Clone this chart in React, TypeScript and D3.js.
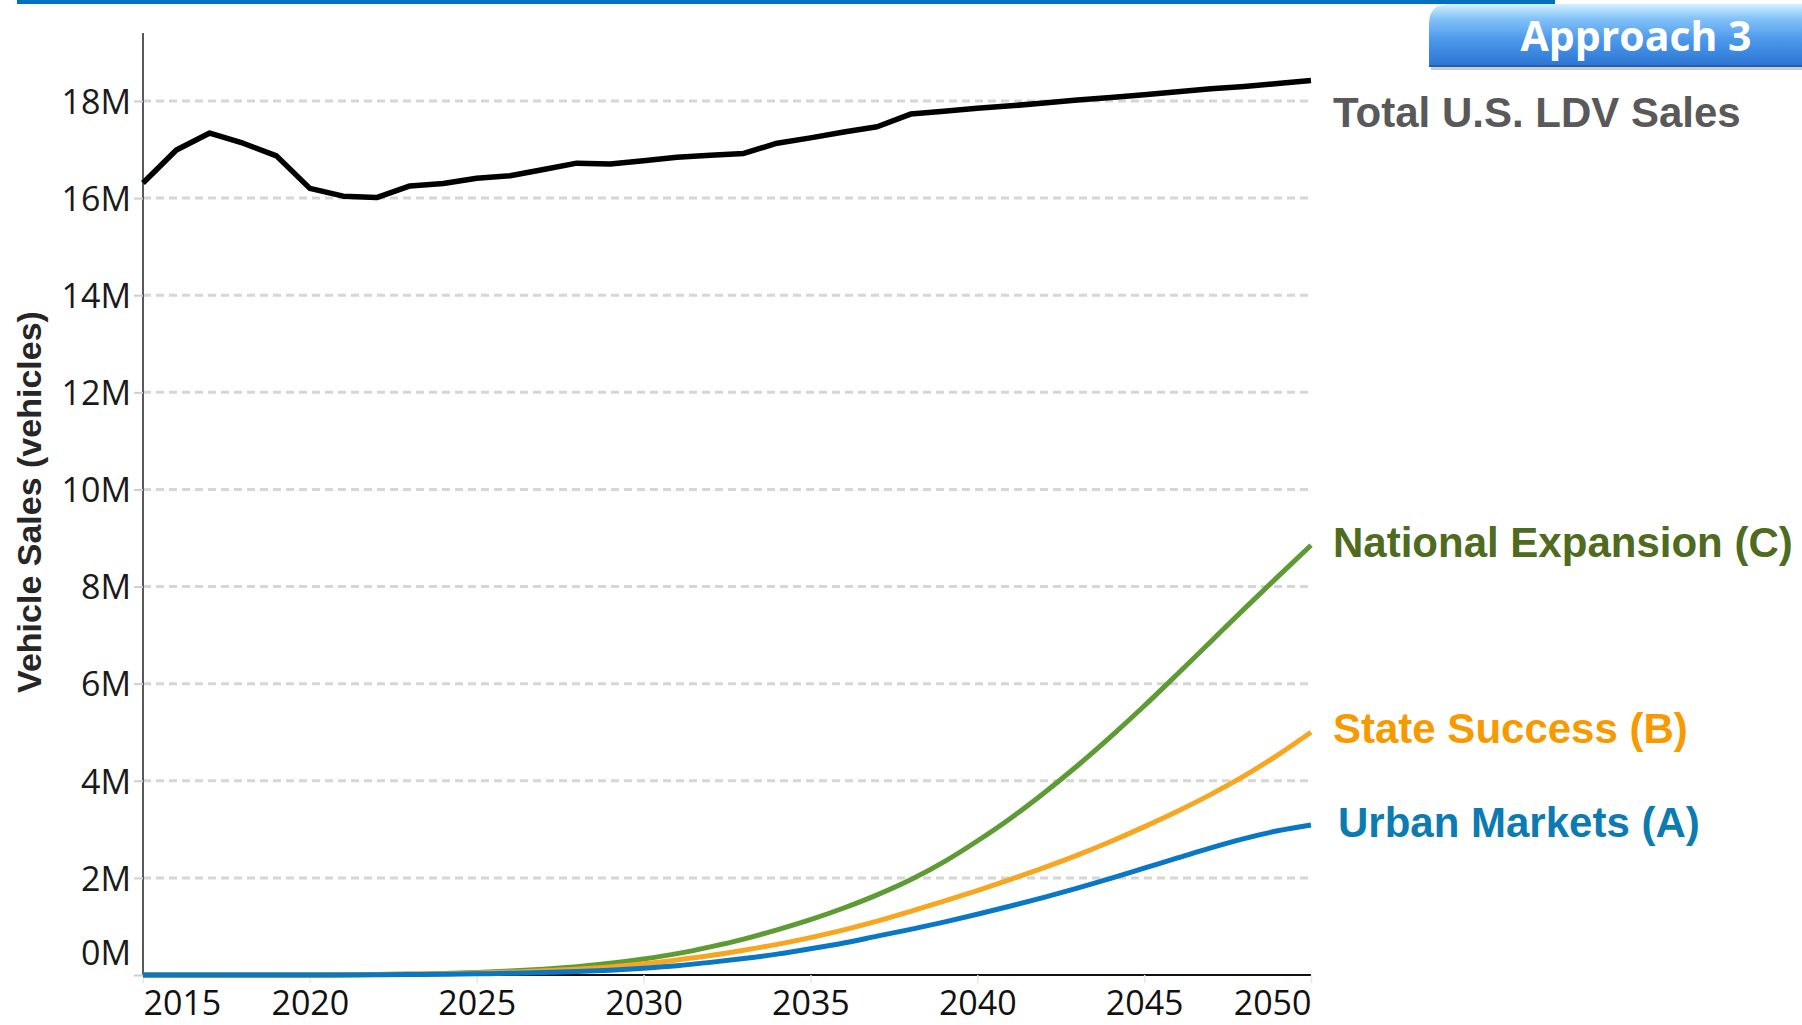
import React, { useEffect, useRef } from "react";
import * as d3 from "d3";

// yearly values (millions of vehicles)
const years = d3.range(2015, 2051);

const totalSales = [
  16.31, 16.99, 17.34, 17.13, 16.87, 16.2, 16.04, 16.01, 16.25, 16.3, 16.41, 16.46,
  16.59, 16.72, 16.7, 16.77, 16.84, 16.88, 16.92, 17.13, 17.24, 17.36, 17.47, 17.73,
  17.79, 17.85, 17.9, 17.96, 18.02, 18.07, 18.13, 18.19, 18.25, 18.3, 18.36, 18.42,
];

const nationalExpansion = [
  0, 0, 0, 0, 0, 0, 0.005, 0.01, 0.02, 0.03, 0.05, 0.08, 0.12, 0.17, 0.24, 0.33, 0.44,
  0.58, 0.74, 0.93, 1.14, 1.38, 1.65, 1.96, 2.33, 2.76, 3.23, 3.75, 4.31, 4.91, 5.54,
  6.2, 6.87, 7.54, 8.2, 8.85,
];

const stateSuccess = [
  0, 0, 0, 0, 0, 0, 0.003, 0.008, 0.015, 0.025, 0.04, 0.06, 0.085, 0.12, 0.165, 0.23,
  0.31, 0.4, 0.51, 0.63, 0.77, 0.93, 1.11, 1.31, 1.52, 1.74, 1.97, 2.21, 2.47, 2.75,
  3.05, 3.37, 3.72, 4.1, 4.53, 5.0,
];

const urbanMarkets = [
  0, 0, 0, 0, 0, 0, 0.002, 0.005, 0.01, 0.015, 0.025, 0.035, 0.05, 0.07, 0.1, 0.14,
  0.19, 0.26, 0.34, 0.43, 0.54, 0.66, 0.8, 0.94, 1.09, 1.25, 1.42, 1.6, 1.79, 1.99,
  2.2, 2.41, 2.62, 2.81, 2.97, 3.09,
];

const yTicks = [0, 2, 4, 6, 8, 10, 12, 14, 16, 18];
const xTicks = [2015, 2020, 2025, 2030, 2035, 2040, 2045, 2050];

const series = [
  { name: "Total U.S. LDV Sales", values: totalSales, line: "#000000", label: "#595959", curve: d3.curveLinear, labelY: 127 },
  { name: "National Expansion (C)", values: nationalExpansion, line: "#5e9b34", label: "#4e6b20", curve: d3.curveMonotoneX, labelY: 557 },
  { name: "State Success (B)", values: stateSuccess, line: "#f7a622", label: "#f79a00", curve: d3.curveMonotoneX, labelY: 743 },
  { name: "Urban Markets (A)", values: urbanMarkets, line: "#0a77c4", label: "#0c7bb2", curve: d3.curveMonotoneX, labelY: 837 },
];

const W = 1802;
const H = 1025;

const App = () => {
  const ref = useRef<SVGSVGElement>(null);

  useEffect(() => {
    const svg = d3.select(ref.current);
    svg.selectAll("*").remove();

    const x = d3.scaleLinear().domain([2015, 2050]).range([143, 1311]);
    const y = d3.scaleLinear().domain([0, 19.4]).range([975, 33]);

    const defs = svg.append("defs");
    const grad = defs
      .append("linearGradient")
      .attr("id", "tab")
      .attr("x1", 0)
      .attr("y1", 0)
      .attr("x2", 0)
      .attr("y2", 1);
    grad.append("stop").attr("offset", "0%").attr("stop-color", "#d2f1ff");
    grad.append("stop").attr("offset", "22%").attr("stop-color", "#86c4f8");
    grad.append("stop").attr("offset", "55%").attr("stop-color", "#4d9aec");
    grad.append("stop").attr("offset", "100%").attr("stop-color", "#2b74d2");

    // top rule + tab
    svg.append("rect").attr("x", 17).attr("y", 0).attr("width", 1538).attr("height", 4).attr("fill", "#0070c0");
    const tabPath = "M1429,67 L1429,24 Q1429,4 1449,4 L1802,4 L1802,67 Z";
    svg.append("path").attr("d", tabPath).attr("transform", "translate(2,3)").attr("fill", "#000").attr("opacity", 0.2);
    svg.append("path").attr("d", tabPath).attr("fill", "url(#tab)");
    svg.append("rect").attr("x", 1429).attr("y", 65).attr("width", 373).attr("height", 2).attr("fill", "#1f5fb4");
    svg
      .append("text")
      .attr("x", 1636)
      .attr("y", 51)
      .attr("text-anchor", "middle")
      .attr("font-family", "'Open Sans', sans-serif")
      .attr("font-weight", 700)
      .attr("font-size", 41)
      .attr("fill", "#fff")
      .text("Approach 3");

    // gridlines
    svg
      .append("g")
      .selectAll("line")
      .data(yTicks.filter((d) => d > 0))
      .join("line")
      .attr("x1", x(2015))
      .attr("x2", x(2050))
      .attr("y1", (d) => y(d))
      .attr("y2", (d) => y(d))
      .attr("stroke", "#d6d6d6")
      .attr("stroke-width", 3)
      .attr("stroke-dasharray", "8,5");

    // y axis
    const yAxis = svg
      .append("g")
      .attr("transform", `translate(${x(2015)},0)`)
      .call(d3.axisLeft(y).tickValues(yTicks).tickSize(9).tickPadding(3).tickFormat((d) => `${d}M`));
    yAxis.select(".domain").attr("stroke", "#222").attr("stroke-width", 1.5).attr("d", `M0,${y(19.4)}V${y(0)}`);
    yAxis.selectAll(".tick line").attr("stroke", "#cfcfcf").attr("stroke-width", 2);
    yAxis
      .selectAll(".tick text")
      .attr("font-family", "'Open Sans', sans-serif")
      .attr("font-size", 34)
      .attr("fill", "#1a1a1a")
      .attr("dy", (d) => (d === 0 ? "-0.3em" : "0.36em"));

    // x axis
    const xAxis = svg
      .append("g")
      .attr("transform", `translate(0,${y(0)})`)
      .call(d3.axisBottom(x).tickValues(xTicks).tickSize(8).tickPadding(12).tickFormat(d3.format("d")));
    xAxis.select(".domain").attr("stroke", "#111").attr("stroke-width", 2).attr("d", `M${x(2015)},0H${x(2050)}`);
    xAxis.selectAll(".tick line").attr("stroke", "#e6e6e6").attr("stroke-width", 1.5);
    xAxis
      .selectAll(".tick text")
      .attr("font-family", "'Open Sans', sans-serif")
      .attr("font-size", 34)
      .attr("fill", "#111")
      .attr("y", 40)
      .attr("dy", 0)
      .attr("text-anchor", (d) => (d === 2015 ? "start" : d === 2050 ? "end" : "middle"));

    // y title
    svg
      .append("text")
      .attr("transform", `translate(41,502) rotate(-90)`)
      .attr("text-anchor", "middle")
      .attr("font-family", "'Liberation Sans', Arial, sans-serif")
      .attr("font-weight", 700)
      .attr("font-size", 34)
      .attr("fill", "#262626")
      .text("Vehicle Sales (vehicles)");

    // lines
    series.forEach((s) => {
      const line = d3
        .line<number>()
        .x((_, i) => x(years[i]))
        .y((d) => y(d))
        .curve(s.curve);
      svg
        .append("path")
        .datum(s.values)
        .attr("d", line)
        .attr("fill", "none")
        .attr("stroke", s.line)
        .attr("stroke-width", s.line === "#000000" ? 5.5 : 5)
        .attr("stroke-linejoin", "round");
    });

    // series labels
    svg
      .append("g")
      .selectAll("text")
      .data(series)
      .join("text")
      .attr("x", (d, i) => (i === 3 ? 1338 : 1333))
      .attr("y", (d) => d.labelY)
      .attr("font-family", "'Liberation Sans', Arial, sans-serif")
      .attr("font-weight", 700)
      .attr("font-size", 42)
      .attr("fill", (d) => d.label)
      .text((d) => d.name);
  }, []);

  return (
    <div style={{ position: "absolute", left: 0, top: 0 }}>
      <svg ref={ref} width={W} height={H} style={{ display: "block", background: "#fff" }}></svg>
    </div>
  );
};

export default App;
